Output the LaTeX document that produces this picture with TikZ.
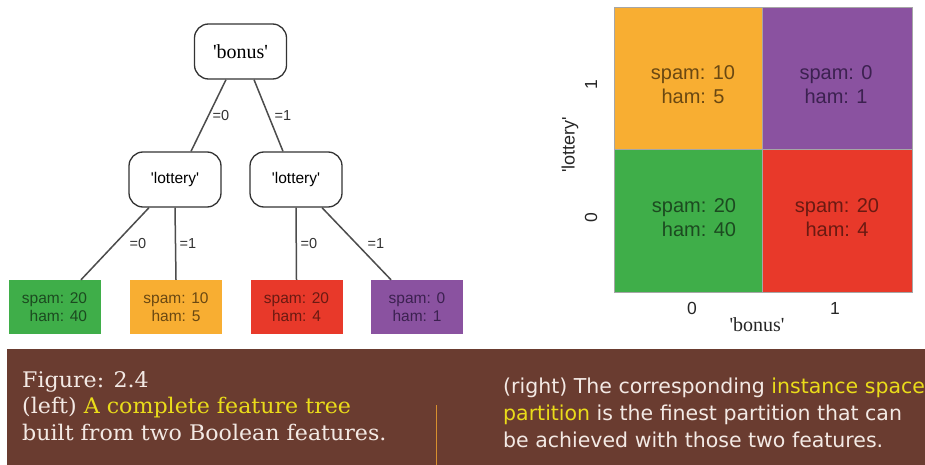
\documentclass[tikz,border=0pt]{standalone}
\usepackage{fontspec}
\newfontfamily\plotsans{Liberation Sans}[Ligatures=TeXOff]
\newfontfamily\plotserif{Liberation Serif}[Ligatures=TeXOff]
\newfontfamily\capserif{DejaVu Serif}[FakeStretch=1.03]
\newfontfamily\capsans{DejaVu Sans}

\definecolor{cgreen}{HTML}{3FAE49}
\definecolor{corange}{HTML}{F8AE32}
\definecolor{cred}{HTML}{E8392A}
\definecolor{cpurple}{HTML}{8A52A0}
\definecolor{tgreen}{HTML}{1C4A20}
\definecolor{torange}{HTML}{6A4812}
\definecolor{tred}{HTML}{6A1A12}
\definecolor{tpurple}{HTML}{3C2150}
\definecolor{bandbrown}{HTML}{6A3C30}
\definecolor{captext}{HTML}{F3E9E4}
\definecolor{capyellow}{HTML}{EADC1A}
\definecolor{rulecol}{HTML}{D8902E}

\tikzset{
  split/.style={draw=black!80, line width=1.3pt, rounded corners=14pt, fill=white,
    minimum width=92pt, minimum height=55pt, inner sep=0pt},
  leaf/.style={minimum width=92pt, minimum height=54pt, inner sep=0pt, align=center,
    font=\plotsans\fontsize{15.5}{18}\selectfont},
  branch/.style={draw=black!70, line width=1.5pt},
  blabel/.style={font=\plotsans\fontsize{14.5}{16}\selectfont, text=black!80, inner sep=0pt},
  cell/.style={draw=black!35, line width=0.4pt, inner sep=0pt},
  celltext/.style={font=\plotsans\fontsize{20}{24}\selectfont, align=center, inner sep=0pt},
  ticklab/.style={font=\plotsans\fontsize{17.5}{20}\selectfont, text=black!85, inner sep=0pt},
  capleft/.style={anchor=base west, inner sep=0pt, text=captext,
    font=\capserif\fontsize{21.5}{24}\selectfont},
  capright/.style={anchor=base west, inner sep=0pt, text=captext,
    font=\capsans\fontsize{20.5}{24}\selectfont},
}

\begin{document}
\begin{tikzpicture}[x=1pt, y=-1pt]
\useasboundingbox (0,0) rectangle (925,465);
\fill[white] (0,0) rectangle (925,465);

% ---- feature tree ----
\node[split, font=\plotserif\fontsize{20}{24}\selectfont] (bonus) at (240.5,51.5) {'bonus'};
\node[split, font=\plotsans\fontsize{15.5}{18}\selectfont] (lotL) at (175,179.5) {'lottery'};
\node[split, font=\plotsans\fontsize{15.5}{18}\selectfont] (lotR) at (296,179.5) {'lottery'};

\node[leaf, fill=cgreen, text=tgreen, align=right] (lg) at (54.5,307) {spam: 20\\ham: 40};
\node[leaf, fill=corange, text=torange] (lo) at (176,307) {spam: 10\\ham: 5};
\node[leaf, fill=cred, text=tred] (lr) at (296.5,307) {spam: 20\\ham: 4};
\node[leaf, fill=cpurple, text=tpurple] (lp) at (417,307) {spam: 0\\ham: 1};

\draw[branch] ([xshift=-14.5pt]bonus.south) -- ([xshift=16pt]lotL.north);
\draw[branch] ([xshift=13.5pt]bonus.south) -- ([xshift=-13pt]lotR.north);
\draw[branch] ([xshift=-26pt]lotL.south) -- ([xshift=26.5pt]lg.north);
\draw[branch] (lotL.south) -- (lo.north);
\draw[branch] (lotR.south) -- (lr.north);
\draw[branch] ([xshift=26pt]lotR.south) -- ([xshift=-26pt]lp.north);

\node[blabel] (e1) at (221,116) {=0};
\node[blabel] (e2) at (283,116) {=1};
\node[blabel] (e3) at (138,244) {=0};
\node[blabel] (e4) at (188,244) {=1};
\node[blabel] (e5) at (309,244) {=0};
\node[blabel] (e6) at (376,244) {=1};

% ---- instance space partition ----
\node[cell, fill=corange, minimum width=148pt, minimum height=142pt] (c01) at (688,78) {};
\node[cell, fill=cpurple, minimum width=150pt, minimum height=142pt] (c11) at (837,78) {};
\node[cell, fill=cgreen, minimum width=148pt, minimum height=143pt] (c00) at (688,220.5) {};
\node[cell, fill=cred, minimum width=150pt, minimum height=143pt] (c10) at (837,220.5) {};

\node[celltext, text=torange] (t01) at (693,85) {spam: 10\\ham: 5};
\node[celltext, text=tpurple] (t11) at (836,85) {spam: 0\\ham: 1};
\node[celltext, text=tgreen, align=right] (t00) at (694,218) {spam: 20\\ham: 40};
\node[celltext, text=tred] (t10) at (837,218) {spam: 20\\ham: 4};

\node[ticklab] (bx0) at (692,308) {0};
\node[ticklab] (bx1) at (835,308) {1};
\node[ticklab, rotate=90] (ly1) at (591,85) {1};
\node[ticklab, rotate=90] (ly0) at (591,218) {0};
\node[font=\plotserif\fontsize{20}{24}\selectfont, text=black!85, inner sep=0pt] (bonusax) at (757,325) {'bonus'};
\node[font=\plotsans\fontsize{18}{20}\selectfont, text=black!85, inner sep=0pt, rotate=90] (lotax) at (570,145) {'lottery'};

% ---- caption band ----
\fill[bandbrown] (7,349) rectangle (925,465);
\draw[rulecol, line width=0.9pt] (436,405) -- (436,465);

\node[capleft] (cl1) at (22,387) {Figure: 2.4};
\node[capleft] (cl2) at (22,413) {(left) {\color{capyellow}A complete feature tree}};
\node[capleft] (cl3) at (22,440) {built from two Boolean features.};

\node[capright] (cr1) at (503,393) {(right) The corresponding {\color{capyellow}instance space}};
\node[capright] (cr2) at (503,420) {{\color{capyellow}partition} is the finest partition that can};
\node[capright] (cr3) at (503,447) {be achieved with those two features.};
\end{tikzpicture}
\end{document}
